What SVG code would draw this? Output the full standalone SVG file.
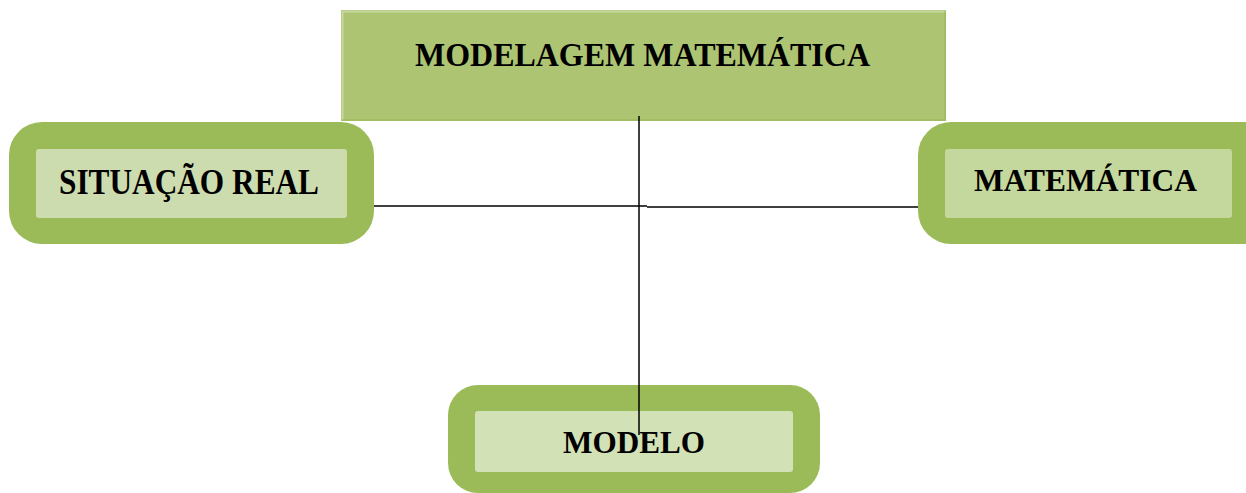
<svg xmlns="http://www.w3.org/2000/svg" width="1246" height="493" viewBox="0 0 1246 493">
<style>
.outer{fill:#9bbb59}
.lbl{font-family:"Liberation Serif","Times New Roman",serif;font-weight:bold;fill:#000}
.conn{stroke:#000;stroke-width:1.5;fill:none}
</style>
<rect width="1246" height="493" fill="#fff"/>
<g id="node-modelagem">
<rect x="341" y="10" width="605" height="111" fill="#adc473"/>
<path d="M342.5 120V11.5H945" stroke="#c6d8a0" stroke-width="2" fill="none"/>
<path d="M945 11.5V120H342.5" stroke="#9fba5e" stroke-width="1.5" fill="none"/>
<text class="lbl" x="415" y="66" font-size="34" textLength="455" lengthAdjust="spacingAndGlyphs">MODELAGEM MATEMÁTICA</text>
</g>
<g id="node-situacao">
<rect class="outer" x="9" y="122" width="365" height="122" rx="33"/>
<rect x="36" y="149" width="311" height="69" rx="3" fill="#cddcaf"/>
<text class="lbl" x="59" y="194" font-size="35" textLength="260" lengthAdjust="spacingAndGlyphs">SITUAÇÃO REAL</text>
</g>
<g id="node-matematica">
<rect class="outer" x="918" y="122" width="360" height="122" rx="33"/>
<rect x="945" y="149" width="287" height="69" rx="3" fill="#c4d79c"/>
<text class="lbl" x="974" y="191" font-size="31" textLength="223" lengthAdjust="spacingAndGlyphs">MATEMÁTICA</text>
</g>
<g id="node-modelo">
<rect class="outer" x="448" y="385" width="372" height="108" rx="30"/>
<rect x="475" y="411" width="318" height="61" rx="3" fill="#d3e1b6"/>
<text class="lbl" x="563" y="453" font-size="30.5" textLength="142" lengthAdjust="spacingAndGlyphs">MODELO</text>
</g>
<g id="connectors">
<line class="conn" x1="639" y1="116" x2="639" y2="435"/>
<line class="conn" x1="374" y1="206" x2="647" y2="206" stroke="#222"/>
<line class="conn" x1="647" y1="207" x2="918" y2="207"/>
</g>
</svg>
